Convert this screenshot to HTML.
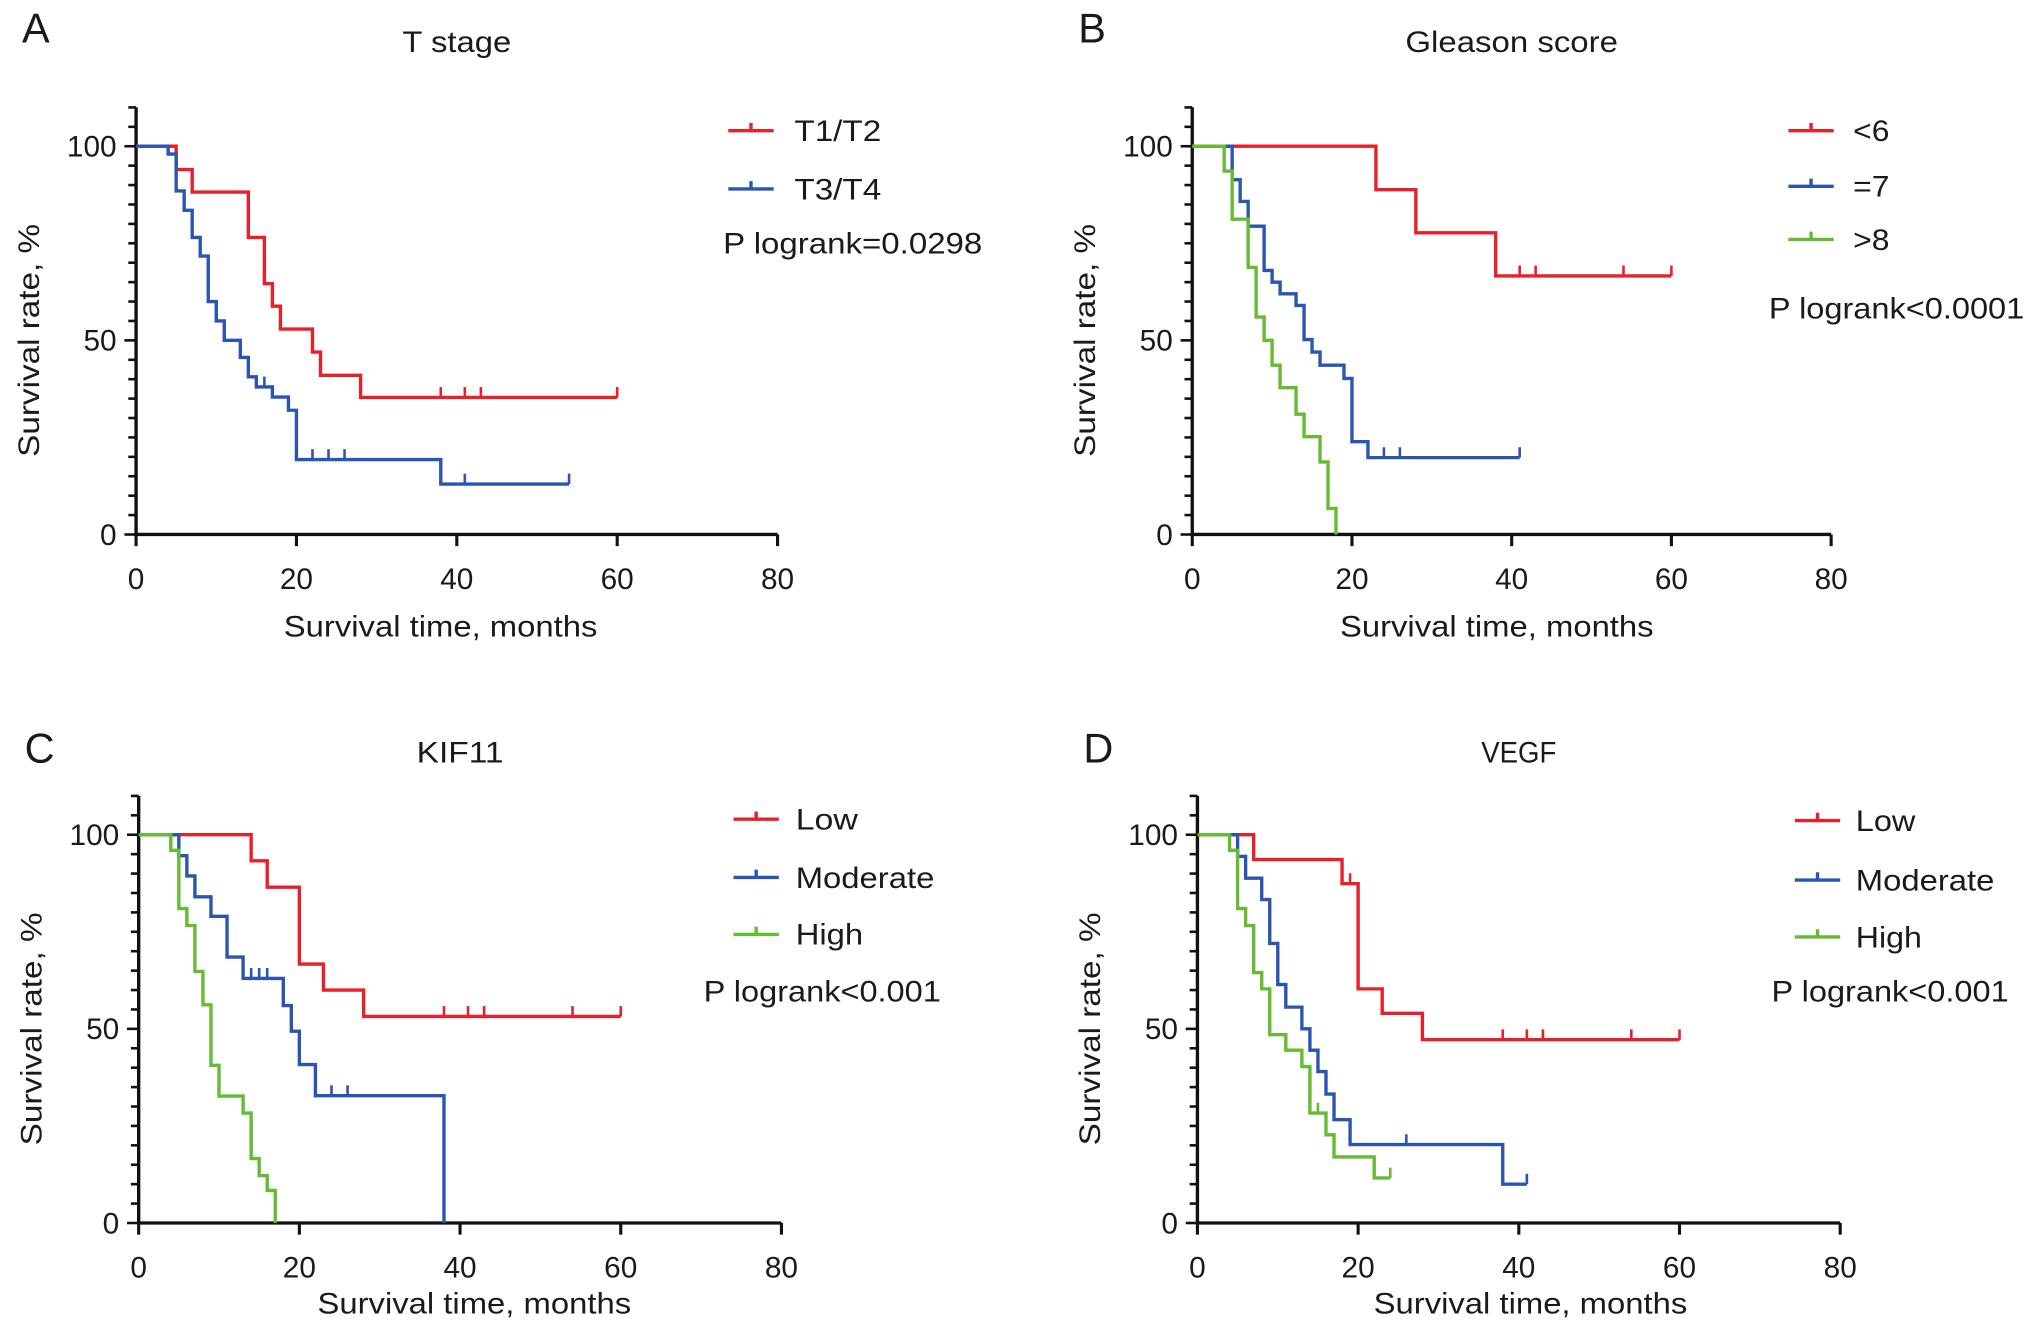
<!DOCTYPE html>
<html><head><meta charset="utf-8"><style>
html,body{margin:0;padding:0;background:#fff}
svg{display:block}
text{font-family:"Liberation Sans",sans-serif;fill:#1a1a1a}
</style></head><body>
<svg id="fig" width="2032" height="1333" viewBox="0 0 1568 1030" preserveAspectRatio="none" xmlns="http://www.w3.org/2000/svg"></svg>
<script>
// ---- Panel A: T stage ----
const aRedT = [5,7,14,16,17,18,22,23,28];
const aRedS = [94,88.2,76.5,64.6,58.8,52.9,47,41,35.3];
const aRedC = [38,41,43,60];
const aBlueT = [4,5,6,7,8,9,10,11,13,14,15,17,19,20,38];
const aBlueS = [98,88.5,83.5,76.5,71.7,60,55,50,45.6,40.6,38,35.4,32,19.3,13];
const aBlueC = [16,22,24,26,41,54];
// ---- Panel B: Gleason ----
const bRedT = [23,28,38];
const bRedS = [88.8,77.7,66.6];
const bRedC = [41,43,54,60];
const bBlueT = [5,6,7,9,10,11,13,14,15,16,19,20,22];
const bBlueS = [91.4,85.8,79.4,68,65,62,59,50.2,47,43.6,40.2,23.9,19.8];
const bBlueC = [24,26,41];
const bGreenT = [4,5,7,8,9,10,11,13,14,16,17,18];
const bGreenS = [93.6,81.2,68.8,56,50,43.6,37.8,31,25.2,18.7,6.7,0];
const bGreenC = [];
// ---- Panel C: KIF11 ----
const cRedT = [14,16,20,23,28];
const cRedS = [93.3,86.5,66.7,60,53.2];
const cRedC = [38,41,43,54,60];
const cBlueT = [5,6,7,9,11,13,18,19,20,22,38];
const cBlueS = [94.6,89.4,84,79,68.5,63,56,49.4,40.8,32.8,0];
const cBlueC = [14,15,16,24,26];
const cGreenT = [4,5,6,7,8,9,10,13,14,15,16,17];
const cGreenS = [96,81,76.6,64.8,56.2,40.6,32.7,28.3,16.6,12.2,8.4,0];
const cGreenC = [];
// ---- Panel D: VEGF ----
const dRedT = [7,18,20,23,28];
const dRedS = [93.6,87.4,60.3,54,47.2];
const dRedC = [19,38,41,43,54,60];
const dBlueT = [5,6,8,9,10,11,13,14,15,16,17,19,38];
const dBlueS = [94.4,88.8,83.3,72,61.4,55.6,50,44.5,39,33.2,26.6,20.2,10];
const dBlueC = [26,41];
const dGreenT = [4,5,6,7,8,9,11,13,14,16,17,22];
const dGreenS = [96,81,76.6,64.5,60.3,48.5,44.5,40.3,28.3,22.7,17,11.6];
const dGreenC = [15,24];

const xTicks = [0,20,40,60,80];
const yTicks = [0,50,100];

const RED='#e8202a', BLUE='#2a55b0', GREEN='#66bb33';
const NS='http://www.w3.org/2000/svg';
const svg=document.getElementById('fig');
function mk(tag,attrs,parent){const e=document.createElementNS(NS,tag);for(const k in attrs)e.setAttribute(k,attrs[k]);(parent||svg).appendChild(e);return e;}

const panels=[
 {id:'a',letter:'A',title:'T stage',tw:84,x0:105,x1:600,yTop:113,yBot:413,lx:562,lt:613,
  legY:[101,146],pY:196,pX:558,p:'P logrank=0.0298',pw:200,ltY:-80,ttY:-73,xtX:235,xtY:79,
  series:[['T1/T2',67,RED,aRedT,aRedS,aRedC],['T3/T4',67,BLUE,aBlueT,aBlueS,aBlueC]]},
 {id:'b',letter:'B',title:'Gleason score',tw:164,x0:920,x1:1413,yTop:113,yBot:413,lx:1380,lt:1430,
  legY:[101,144,185],pY:246,pX:1365,p:'P logrank<0.0001',pw:197,ltY:-80,ttY:-73,xtX:235,xtY:79,
  series:[['<6',28,RED,bRedT,bRedS,bRedC],['=7',28,BLUE,bBlueT,bBlueS,bBlueC],['>8',28,GREEN,bGreenT,bGreenS,bGreenC]]},
 {id:'c',letter:'C',title:'KIF11',tw:67,x0:107,x1:603,yTop:645,yBot:945,lx:566,lt:614,
  legY:[633,678,722],pY:774,pX:543,p:'P logrank<0.001',pw:183,ltY:-56,ttY:-56,xtX:259,xtY:70,
  series:[['Low',48,RED,cRedT,cRedS,cRedC],['Moderate',107,BLUE,cBlueT,cBlueS,cBlueC],['High',52,GREEN,cGreenT,cGreenS,cGreenC]]},
 {id:'d',letter:'D',title:'VEGF',tw:58,x0:924,x1:1420,yTop:645,yBot:945,lx:1385,lt:1432,
  legY:[634,680,724],pY:774,pX:1367,p:'P logrank<0.001',pw:183,ltY:-56,ttY:-56,xtX:257,xtY:70,
  series:[['Low',46,RED,dRedT,dRedS,dRedC],['Moderate',107,BLUE,dBlueT,dBlueS,dBlueC],['High',51,GREEN,dGreenT,dGreenS,dGreenC]]}
];

panels.forEach(P=>{
  const g=mk('g',{});
  
  
  const X=t=>P.x0+(P.x1-P.x0)*t/80;
  const Y=s=>P.yBot-(P.yBot-P.yTop)*s/100;
  const L=mk('text',{x:P.x0-88,y:P.yTop+P.ltY,'font-size':32},g);L.textContent=P.letter;
  
  
  const T=mk('text',{x:(P.x0+P.x1)/2,y:P.yTop+P.ttY,'font-size':23,'text-anchor':'middle',textLength:P.tw,lengthAdjust:'spacingAndGlyphs'},g);T.textContent=P.title;
  
  
  const ax=mk('path',{d:`M${P.x0},${Y(110)}V${P.yBot}H${P.x1}`,stroke:'#111','stroke-width':2.6,fill:'none'},g);
  
  
  for(let v=0;v<=110;v+=5){
    const maj=yTicks.includes(v);
    mk('line',{x1:P.x0-(maj?9:6),x2:P.x0,y1:Y(v),y2:Y(v),stroke:'#111','stroke-width':2},g);
  }
  yTicks.forEach(v=>{const t=mk('text',{x:P.x0-15,y:Y(v)+8,'font-size':23,'text-anchor':'end'},g);t.textContent=v;
    
    });
  xTicks.forEach(v=>{mk('line',{x1:X(v),x2:X(v),y1:P.yBot,y2:P.yBot+9,stroke:'#111','stroke-width':2.4},g);
    const t=mk('text',{x:X(v),y:P.yBot+42,'font-size':23,'text-anchor':'middle'},g);t.textContent=v;
    
    });
  const xt=mk('text',{x:P.x0+P.xtX,y:P.yBot+P.xtY,'font-size':23,'text-anchor':'middle',textLength:242,lengthAdjust:'spacingAndGlyphs'},g);
  xt.textContent='Survival time, months';
  
  
  const yc=(P.yTop+P.yBot)/2;
  const yt=mk('text',{x:0,y:0,'font-size':23,'text-anchor':'middle',textLength:180,lengthAdjust:'spacingAndGlyphs',transform:`translate(${P.x0-75},${yc}) rotate(-90)`},g);
  yt.textContent='Survival rate, %';
  
  
  P.series.forEach((s,i)=>{
    const [name,lw,col,ts,ss,cs]=s;
    const endT=Math.max(ts[ts.length-1],...(cs.length?cs:[0]));
    let d=`M${X(0)},${Y(100)}`;let cur=100;
    ts.forEach((t,k)=>{d+=`H${X(t)}V${Y(ss[k])}`;cur=ss[k];});
    if(cur>0) d+=`H${X(endT)}`;
    const p=mk('path',{d,stroke:col,'stroke-width':2.6,fill:'none'},g);
    
    
    cs.forEach(c=>{let v=100;ts.forEach((t,k)=>{if(t<=c)v=ss[k];});
      const m=mk('line',{x1:X(c),x2:X(c),y1:Y(v),y2:Y(v)-8,stroke:col,'stroke-width':2},g);
      
      });
    const ly=P.legY[i];
    const ll=mk('path',{d:`M${P.lx},${ly}H${P.lx+35}M${P.lx+17.5},${ly}v-6`,stroke:col,'stroke-width':2.6,fill:'none'},g);
    
    
    const lt=mk('text',{x:P.lt,y:ly+8,'font-size':23,textLength:lw,lengthAdjust:'spacingAndGlyphs'},g);lt.textContent=name;
    
    
  });
  const pt=mk('text',{x:P.pX,y:P.pY,'font-size':23,textLength:P.pw,lengthAdjust:'spacingAndGlyphs'},g);pt.textContent=P.p;
  
  
});
</script>
</body></html>
